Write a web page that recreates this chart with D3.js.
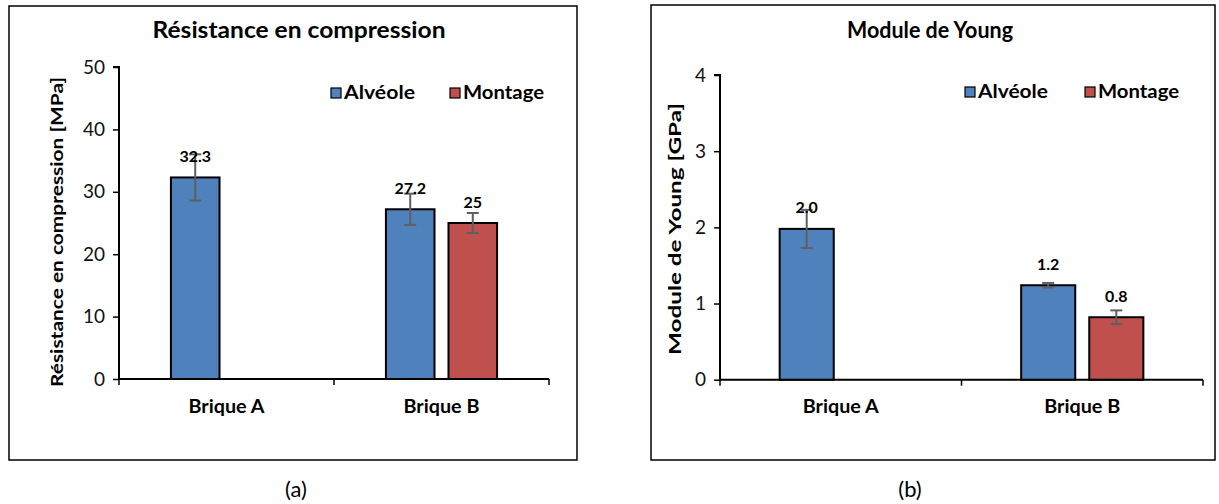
<!DOCTYPE html>
<html><head><meta charset="utf-8">
<script src="https://cdn.jsdelivr.net/npm/d3@7"></script>
<style>body{margin:0;background:#fff}svg{display:block}</style>
</head><body>
<svg id="c" width="1219" height="504" font-family="Lato, 'Open Sans', sans-serif"></svg>
<script>
const categories = ["Brique A", "Brique B"];
const series = ["Alvéole", "Montage"];
const colors = ["#4F81BD", "#C0504D"];
// panel (a)
const resAlveole = [32.3, 27.2];
const resMontage = [null, 25];
const resAlveoleErr = [3.7, 2.5];
const resMontageErr = [null, 1.6];
const resLabels = [["32.3", "27.2"], [null, "25"]];
const resTicks = [0, 10, 20, 30, 40, 50];
// panel (b)
const youngAlveole = [1.98, 1.24];
const youngMontage = [null, 0.82];
const youngAlveoleErr = [0.25, 0.03];
const youngMontageErr = [null, 0.09];
const youngLabels = [["2.0", "1.2"], [null, "0.8"]];
const youngTicks = [0, 1, 2, 3, 4];

const svg = d3.select("#c");
const FONT = "Lato, 'Open Sans', sans-serif";

function panel(o) {
  const g = svg.append("g");
  g.append("rect").attr("x", o.box[0]).attr("y", o.box[1]).attr("width", o.box[2]-o.box[0]).attr("height", o.box[3]-o.box[1])
    .attr("fill", "#fff").attr("stroke", "#000").attr("stroke-width", 1.5);
  g.append("text").attr("x", o.titleX).attr("y", 30).attr("dy", "0.35em").attr("text-anchor", "middle")
    .attr("font-size", 22).attr("font-weight", "bold").attr("textLength", o.titleLen).attr("lengthAdjust", "spacingAndGlyphs").text(o.title);

  const x = d3.scaleBand().domain(categories).range([o.x0, o.x1]);
  const y = d3.scaleLinear().domain([0, o.ticks[o.ticks.length-1]]).range([o.y0, o.y1]);
  const bw = x.bandwidth();
  const w = o.barFrac * bw, gap = o.gapFrac * bw;
  const off = (bw - (2*w + gap)) / 2;
  const x1 = d3.scaleBand().domain(series).range([off, bw - off]).paddingInner(gap / (w + gap)).paddingOuter(0);

  // axes
  const ya = g.append("g").attr("transform", `translate(${o.x0},0)`)
    .call(d3.axisLeft(y).tickValues(o.ticks).tickSize(6).tickPadding(8).tickFormat(d3.format("d")));
  ya.attr("font-family", FONT).attr("font-size", 19);
  ya.select(".domain").attr("stroke-width", 2).attr("d", `M-6,${y(o.ticks[o.ticks.length-1])}H0V${o.y0}`);
  ya.selectAll(".tick line").attr("stroke-width", 1.5);
  ya.selectAll(".tick text").attr("fill", "#111");

  const xa = g.append("g").attr("transform", `translate(0,${o.y0})`)
    .call(d3.axisBottom(x).tickSize(0).tickPadding(21));
  xa.attr("font-family", FONT).attr("font-size", 18).attr("font-weight", "bold");
  xa.select(".domain").attr("stroke-width", 2).attr("d", `M${o.x0},0H${o.x1}`);
  xa.selectAll(".tick text").attr("fill", "#000").attr("textLength", 76).attr("lengthAdjust", "spacingAndGlyphs");
  const bounds = [o.x0].concat(categories.map(c => x(c) + bw));
  xa.selectAll(".bt").data(bounds).join("line").attr("x1", d => d).attr("x2", d => d).attr("y1", 0).attr("y2", 6)
    .attr("stroke", "#000").attr("stroke-width", 1.5);

  // bars
  o.values.forEach((vals, si) => {
    vals.forEach((v, ci) => {
      if (v == null) return;
      const bx = x(categories[ci]) + x1(series[si]);
      g.append("rect").attr("x", bx).attr("y", y(v)).attr("width", x1.bandwidth()).attr("height", y(0) - y(v))
        .attr("fill", colors[si]).attr("stroke", "#000").attr("stroke-width", 2);
      const e = o.errs[si][ci];
      const cx = bx + x1.bandwidth()/2;
      const eg = g.append("g").attr("stroke", "#5f5f5f").attr("stroke-width", 2);
      eg.append("line").attr("x1", cx).attr("x2", cx).attr("y1", y(v+e)).attr("y2", y(v-e));
      eg.append("line").attr("x1", cx-6).attr("x2", cx+6).attr("y1", y(v+e)).attr("y2", y(v+e));
      eg.append("line").attr("x1", cx-6).attr("x2", cx+6).attr("y1", y(v-e)).attr("y2", y(v-e));
      g.append("text").attr("x", cx).attr("y", y(v) - 21).attr("dy", "0.35em").attr("text-anchor", "middle")
        .attr("font-size", 16).attr("font-weight", "bold").text(o.labels[si][ci]);
    });
  });

  // legend
  series.forEach((s, i) => {
    const lx = o.legX[i];
    g.append("rect").attr("x", lx).attr("y", o.legY - 5).attr("width", 10).attr("height", 10)
      .attr("fill", colors[i]).attr("stroke", "#000").attr("stroke-width", 1.2);
    g.append("text").attr("x", lx + 13).attr("y", o.legY).attr("dy", "0.35em").attr("font-size", 18).attr("font-weight", "bold")
      .attr("textLength", o.legLen[i]).attr("lengthAdjust", "spacingAndGlyphs").text(s);
  });

  // y axis title
  g.append("text").attr("transform", `translate(${o.ytX},${o.ytY}) rotate(-90)`).attr("dy", "0.35em").attr("text-anchor", "middle")
    .attr("font-size", 17).attr("font-weight", "bold").attr("textLength", o.ytLen).attr("lengthAdjust", "spacingAndGlyphs").text(o.ytitle);

  g.append("text").attr("x", o.capX).attr("y", 489).attr("dy", "0.35em").attr("text-anchor", "middle")
    .attr("font-size", 22).text(o.cap);
}

panel({
  box: [9, 6, 577, 460], title: "Résistance  en compression", titleX: 299, titleLen: 293,
  x0: 119, x1: 549, y0: 379, y1: 67, ticks: resTicks, barFrac: 0.226, gapFrac: 0.065,
  values: [resAlveole, resMontage], errs: [resAlveoleErr, resMontageErr], labels: resLabels,
  legX: [331, 450], legY: 93, legLen: [71, 81],
  ytitle: "Résistance en compression [MPa]", ytX: 57, ytY: 232, ytLen: 310,
  cap: "(a)", capX: 296
});
panel({
  box: [651, 5, 1215, 460], title: "Module de Young", titleX: 930, titleLen: 166,
  x0: 720, x1: 1203, y0: 379.7, y1: 75, ticks: youngTicks, barFrac: 0.224, gapFrac: 0.058,
  values: [youngAlveole, youngMontage], errs: [youngAlveoleErr, youngMontageErr], labels: youngLabels,
  legX: [965, 1085], legY: 92, legLen: [70, 81],
  ytitle: "Module de Young [GPa]", ytX: 675, ytY: 229, ytLen: 252,
  cap: "(b)", capX: 910
});
</script>
</body></html>
